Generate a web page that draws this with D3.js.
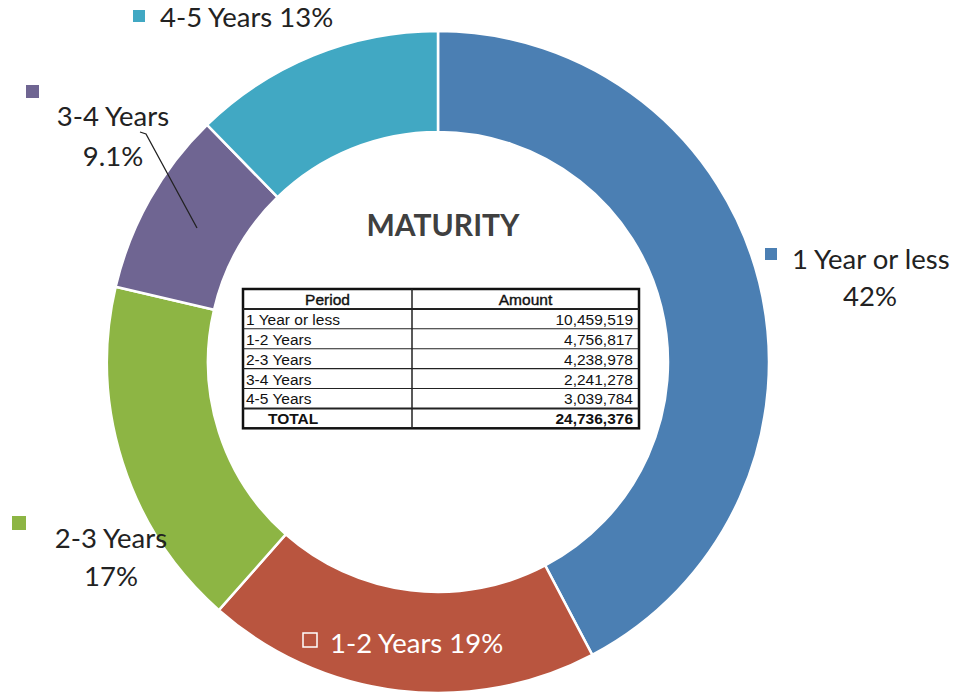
<!DOCTYPE html>
<html><head><meta charset="utf-8">
<script src="https://cdn.jsdelivr.net/npm/d3@7"></script>
<style>html,body{margin:0;padding:0;background:#fff;}svg{display:block;}</style>
</head><body>
<svg id="c" width="963" height="698"></svg>
<script>
const categories = ["1 Year or less","1-2 Years","2-3 Years","3-4 Years","4-5 Years"];
const amounts = [10459519, 4756817, 4238978, 2241278, 3039784];
const pctLabels = ["42%","19%","17%","9.1%","13%"];
const totalLabel = "TOTAL";
const totalAmount = 24736376;
const colors = ["#4b7fb3","#b9553f","#8db544","#6f6592","#41a8c3"];

const svg = d3.select("#c");
const cx = 438, cy = 362, rOuter = 331, rInner = 230;
const g = svg.append("g").attr("transform",`translate(${cx},${cy})`);
const pie = d3.pie().sort(null).value(d=>d);
const arc = d3.arc().innerRadius(rInner).outerRadius(rOuter);
const arcs = pie(amounts);
g.selectAll("path").data(arcs).enter().append("path")
  .attr("d",arc).attr("fill",(d,i)=>colors[i])
  .attr("stroke","#fff").attr("stroke-width",2.5);

// Title
svg.append("text").attr("x",443).attr("y",236).attr("text-anchor","middle")
  .attr("font-family","Lato, 'Open Sans', sans-serif").attr("font-weight","bold")
  .attr("font-size",30).attr("fill","#404040").text("MATURITY");

// Labels
const lf = "Lato, 'Open Sans', sans-serif";
function sq(x,y,s,fill,stroke){
  svg.append("rect").attr("x",x).attr("y",y).attr("width",s).attr("height",s)
    .attr("fill",fill).attr("stroke",stroke||"none").attr("stroke-width",stroke?1.5:0);
}
function txt(x,y,t,anchor,fill,size){
  svg.append("text").attr("x",x).attr("y",y).attr("text-anchor",anchor||"start")
    .attr("font-family",lf).attr("font-size",size||27.5).attr("fill",fill||"#222").text(t);
}
// 4-5 Years
sq(133,10,12,colors[4]);
txt(160,27,categories[4]+" "+pctLabels[4]);
// 3-4 Years
sq(26,85,13,colors[3]);
txt(113,126,categories[3],"middle");
txt(113,166,pctLabels[3],"middle");
svg.append("path").attr("d","M140,132 L146,134 L197,228").attr("fill","none")
  .attr("stroke","#222").attr("stroke-width",1.3);
// 1 Year or less
sq(765,248,12,colors[0]);
txt(792,269,categories[0]);
txt(870,306,pctLabels[0],"middle");
// 2-3 Years
sq(12,516,14,colors[2]);
txt(111,548,categories[2],"middle");
txt(111,586,pctLabels[2],"middle");
// 1-2 Years (inside, white)
sq(303,633,14,"none","#fff");
txt(330,653,categories[1]+" "+pctLabels[1],"start","#fff");

// Table
const tx0 = 243, tx1 = 412, tx2 = 639, ty0 = 289, rh = 19.9;
const rows = categories.map((c,i)=>[c, d3.format(",")(amounts[i])]);
const tg = svg.append("g");
tg.append("rect").attr("x",tx0).attr("y",ty0).attr("width",tx2-tx0).attr("height",rh*7)
  .attr("fill","#fff").attr("stroke","#111").attr("stroke-width",2.5);
for(let i=1;i<7;i++){
  tg.append("line").attr("x1",tx0).attr("x2",tx2).attr("y1",ty0+rh*i).attr("y2",ty0+rh*i)
    .attr("stroke","#222").attr("stroke-width",(i===1||i===6)?2:1.1);
}
tg.append("line").attr("x1",tx1).attr("x2",tx1).attr("y1",ty0).attr("y2",ty0+rh*7)
  .attr("stroke","#222").attr("stroke-width",1.5);
const tf = "'Liberation Sans', Arial, sans-serif";
function ttxt(x,y,t,anchor,bold,stroke){
  const e = tg.append("text").attr("x",x).attr("y",y).attr("text-anchor",anchor)
    .attr("font-family",tf).attr("font-size",15.5).attr("font-weight",bold?"bold":"normal")
    .attr("fill","#111").text(t);
  if(stroke) e.attr("stroke","#111").attr("stroke-width",0.4);
}
ttxt((tx0+tx1)/2, ty0+rh-4, "Period","middle",false,true);
ttxt((tx1+tx2)/2, ty0+rh-4, "Amount","middle",false,true);
rows.forEach((r,i)=>{
  const y = ty0 + rh*(i+2) - 4;
  ttxt(tx0+3,y,r[0],"start",false);
  ttxt(tx2-6,y,r[1],"end",false);
});
ttxt(268, ty0+rh*7-4, totalLabel,"start",true);
ttxt(tx2-6, ty0+rh*7-4, d3.format(",")(totalAmount),"end",true);
</script>
</body></html>
